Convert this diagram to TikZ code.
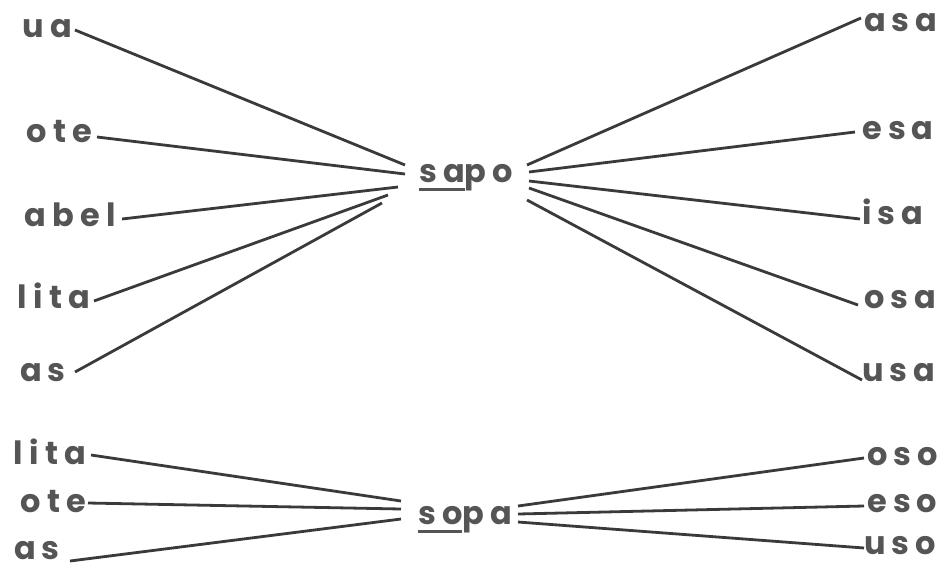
\documentclass[tikz,border=0pt]{standalone}
\usepackage{fontspec}
\setmainfont{Poppins}
\newfontfamily\wordfont[LetterSpace=19]{Poppins}
\definecolor{wordgray}{HTML}{555555}
\definecolor{linegray}{HTML}{3a3a3a}
% underlined syllable of a hub word
\newcommand{\uword}[1]{\leavevmode\vtop{\hbox{#1}\kern6pt\hrule height 2.6pt}}

\begin{document}
\begin{tikzpicture}[x=1pt,y=-1pt,
    word/.style={text=wordgray, font=\wordfont\bfseries\fontsize{32}{38}\selectfont,
      inner sep=0pt, text height=18pt, text depth=0pt},
    link/.style={draw=linegray, line width=2.8pt}]
  \useasboundingbox (0,0) rectangle (941,573);

  % hub words
  \node[word] (sapo) at (466,173) {\uword{sa}po};
  \node[word] (sopa) at (465,515) {\uword{so}pa};

  % words on the left of sapo
  \node[word,anchor=east] (ua)   at (72,28)   {ua};
  \node[word,anchor=east] (ote)  at (92,133)  {ote};
  \node[word,anchor=east] (abel) at (116,217) {abel};
  \node[word,anchor=east] (lita) at (90,299)  {lita};
  \node[word,anchor=east] (as)   at (66,372)  {as};
  % words on the right of sapo
  \node[word,anchor=west] (asa) at (864,22)  {asa};
  \node[word,anchor=west] (esa) at (862,130) {esa};
  \node[word,anchor=west] (isa) at (862,215) {isa};
  \node[word,anchor=west] (osa) at (864,299) {osa};
  \node[word,anchor=west] (usa) at (862,372) {usa};

  % words round sopa
  \node[word,anchor=east] (litab) at (86,455) {lita};
  \node[word,anchor=east] (oteb)  at (86,503) {ote};
  \node[word,anchor=east] (asb)   at (60,550) {as};
  \node[word,anchor=west] (oso) at (867,456) {oso};
  \node[word,anchor=west] (eso) at (867,503) {eso};
  \node[word,anchor=west] (uso) at (864,545) {uso};

  % links to sapo
  \draw[link] ([shift={(3,2)}]ua.east)   -- ([shift={(-61,-8)}]sapo.center);
  \draw[link] ([shift={(5,4)}]ote.east)  -- ([shift={(-61,1)}]sapo.center);
  \draw[link] ([shift={(6,2)}]abel.east) -- ([shift={(-68,14)}]sapo.center);
  \draw[link] ([shift={(4,2)}]lita.east)  -- ([shift={(-78,22)}]sapo.center);
  \draw[link] ([shift={(9,0)}]as.east)   -- ([shift={(-84,30)}]sapo.center);
  \draw[link] ([shift={(61,-8)}]sapo.center) -- ([shift={(-3,-4)}]asa.west);
  \draw[link] ([shift={(63,-1)}]sapo.center) -- ([shift={(-7,2)}]esa.west);
  \draw[link] ([shift={(63,8)}]sapo.center)  -- ([shift={(-2,4)}]isa.west);
  \draw[link] ([shift={(63,15)}]sapo.center) -- ([shift={(-6,6)}]osa.west);
  \draw[link] ([shift={(61,27)}]sapo.center) -- ([shift={(0,8)}]usa.west);

  % links to sopa
  \draw[link] ([shift={(5,0)}]litab.east) -- ([shift={(-64,-14)}]sopa.center);
  \draw[link] ([shift={(2,0)}]oteb.east)  -- ([shift={(-64,-6)}]sopa.center);
  \draw[link] ([shift={(10,11)}]asb.east)  -- ([shift={(-64,4)}]sopa.center);
  \draw[link] ([shift={(53,-9)}]sopa.center) -- ([shift={(-3,2)}]oso.west);
  \draw[link] ([shift={(53,-1)}]sopa.center) -- ([shift={(-3,3)}]eso.west);
  \draw[link] ([shift={(53,7)}]sopa.center)  -- ([shift={(0,3)}]uso.west);
\end{tikzpicture}
\end{document}
